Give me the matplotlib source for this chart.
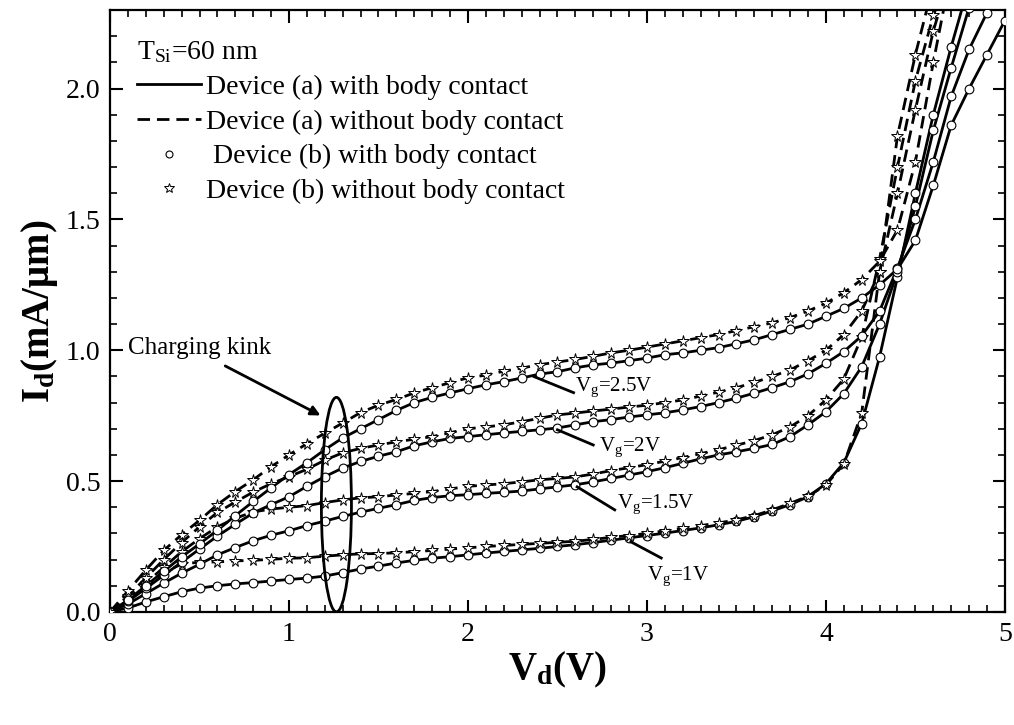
import numpy as np
import matplotlib
matplotlib.use('Agg')
import matplotlib.pyplot as plt
from matplotlib.lines import Line2D
from matplotlib.patches import Ellipse
from matplotlib.ticker import MultipleLocator

plt.rcParams['font.family'] = ['Liberation Serif', 'DejaVu Serif']
plt.rcParams['mathtext.fontset'] = 'custom'
plt.rcParams['mathtext.rm'] = 'Liberation Serif'
plt.rcParams['mathtext.it'] = 'Liberation Serif:italic'
plt.rcParams['mathtext.bf'] = 'Liberation Serif:bold'

# drain voltage sweep (V)
vd = [0.0, 0.1, 0.2, 0.3, 0.4, 0.5, 0.6, 0.7, 0.8, 0.9,
      1.0, 1.1, 1.2, 1.3, 1.4, 1.5, 1.6, 1.7, 1.8, 1.9,
      2.0, 2.1, 2.2, 2.3, 2.4, 2.5, 2.6, 2.7, 2.8, 2.9,
      3.0, 3.1, 3.2, 3.3, 3.4, 3.5, 3.6, 3.7, 3.8, 3.9,
      4.0, 4.1, 4.2, 4.3, 4.4, 4.5, 4.6, 4.7, 4.8, 4.9, 5.0]

# with body contact (mA/um)
with_vg1 = [0, 0.015, 0.038, 0.058, 0.077, 0.091, 0.100, 0.107, 0.112, 0.118,
            0.124, 0.129, 0.137, 0.150, 0.164, 0.175, 0.187, 0.197, 0.205, 0.211,
            0.218, 0.225, 0.231, 0.237, 0.243, 0.250, 0.257, 0.265, 0.274, 0.283,
            0.292, 0.301, 0.311, 0.321, 0.333, 0.346, 0.364, 0.386, 0.410, 0.440,
            0.490, 0.570, 0.720, 0.975, 1.28, 1.60, 1.90, 2.16, 2.40]
with_vg15 = [0, 0.03, 0.07, 0.11, 0.148, 0.182, 0.218, 0.246, 0.272, 0.293,
             0.310, 0.330, 0.347, 0.365, 0.381, 0.396, 0.410, 0.426, 0.437, 0.444,
             0.448, 0.453, 0.457, 0.462, 0.470, 0.478, 0.486, 0.497, 0.510, 0.523,
             0.536, 0.551, 0.568, 0.585, 0.600, 0.612, 0.625, 0.640, 0.670, 0.715,
             0.765, 0.834, 0.937, 1.10, 1.30, 1.55, 1.84, 2.08, 2.31]
with_vg2 = [0, 0.04, 0.09, 0.14, 0.19, 0.24, 0.29, 0.335, 0.378, 0.41,
            0.44, 0.48, 0.517, 0.55, 0.575, 0.595, 0.612, 0.635, 0.650, 0.663,
            0.670, 0.677, 0.684, 0.690, 0.696, 0.703, 0.715, 0.727, 0.735, 0.745,
            0.753, 0.761, 0.772, 0.785, 0.800, 0.817, 0.836, 0.857, 0.880, 0.910,
            0.950, 0.995, 1.055, 1.15, 1.315, 1.50, 1.72, 1.97, 2.15, 2.29, 2.42]
with_vg25 = [0, 0.045, 0.10, 0.155, 0.21, 0.26, 0.312, 0.368, 0.422, 0.474,
             0.525, 0.57, 0.62, 0.665, 0.70, 0.735, 0.77, 0.80, 0.82, 0.837,
             0.853, 0.868, 0.880, 0.894, 0.909, 0.918, 0.933, 0.944, 0.951, 0.960,
             0.970, 0.983, 0.990, 1.000, 1.010, 1.025, 1.040, 1.060, 1.080, 1.100,
             1.130, 1.160, 1.200, 1.250, 1.310, 1.42, 1.63, 1.86, 2.00, 2.13, 2.26]

# without body contact (mA/um)
without_vg1 = [0, 0.04, 0.10, 0.15, 0.183, 0.19, 0.191, 0.195, 0.197, 0.201,
               0.205, 0.207, 0.213, 0.218, 0.222, 0.223, 0.226, 0.23, 0.235, 0.24,
               0.245, 0.25, 0.254, 0.258, 0.262, 0.266, 0.270, 0.277, 0.285, 0.292,
               0.300, 0.31, 0.32, 0.33, 0.34, 0.352, 0.368, 0.39, 0.415, 0.442,
               0.485, 0.565, 0.76, 1.30, 1.82, 2.13, 2.40]
without_vg15 = [0, 0.05, 0.11, 0.17, 0.23, 0.28, 0.325, 0.358, 0.382, 0.393,
                0.400, 0.406, 0.418, 0.428, 0.436, 0.440, 0.447, 0.453, 0.460, 0.470,
                0.480, 0.485, 0.490, 0.497, 0.505, 0.510, 0.516, 0.527, 0.540, 0.551,
                0.563, 0.576, 0.590, 0.605, 0.620, 0.637, 0.655, 0.677, 0.707, 0.750,
                0.810, 0.890, 1.05, 1.35, 1.70, 2.03, 2.28, 2.45]
without_vg2 = [0, 0.06, 0.13, 0.20, 0.265, 0.325, 0.38, 0.42, 0.458, 0.49,
               0.517, 0.545, 0.58, 0.608, 0.625, 0.638, 0.650, 0.660, 0.670, 0.685,
               0.700, 0.707, 0.715, 0.727, 0.740, 0.753, 0.760, 0.768, 0.775, 0.783,
               0.790, 0.80, 0.81, 0.825, 0.840, 0.857, 0.877, 0.900, 0.925, 0.960,
               1.000, 1.06, 1.15, 1.30, 1.60, 1.92, 2.22, 2.45]
without_vg25 = [0, 0.08, 0.16, 0.235, 0.295, 0.35, 0.41, 0.46, 0.505, 0.555,
                0.60, 0.643, 0.683, 0.722, 0.762, 0.790, 0.812, 0.837, 0.857, 0.876,
                0.895, 0.905, 0.920, 0.932, 0.945, 0.955, 0.965, 0.977, 0.990, 1.000,
                1.012, 1.024, 1.036, 1.048, 1.060, 1.075, 1.090, 1.105, 1.125, 1.150,
                1.180, 1.220, 1.270, 1.340, 1.46, 1.72, 2.10, 2.45]

with_curves = [with_vg1, with_vg15, with_vg2, with_vg25]
without_curves = [without_vg1, without_vg15, without_vg2, without_vg25]

vg_labels = [r'V$_\mathrm{g}$=1V', r'V$_\mathrm{g}$=1.5V', r'V$_\mathrm{g}$=2V', r'V$_\mathrm{g}$=2.5V']
label_pos = [(3.00, 0.135), (2.83, 0.41), (2.73, 0.63), (2.60, 0.857)]
pointer_from = [(2.91, 0.268), (2.61, 0.478), (2.50, 0.696), (2.37, 0.899)]
pointer_to = [(3.08, 0.206), (2.82, 0.390), (2.70, 0.638), (2.59, 0.838)]

fig = plt.figure(figsize=(10.14, 7.25), dpi=100)
ax = fig.add_axes([0.1085, 0.156, 0.8825, 0.830])

lw = 2.0
dash = (0, (4.5, 2.5))
for ya, yb in zip(with_curves, without_curves):
    xa = vd[:len(ya)]
    xb = vd[:len(yb)]
    # device (a): lines
    ax.plot(xa, ya, color='k', lw=lw, ls='-', zorder=2)
    ax.plot(xb, yb, color='k', lw=lw, ls=dash, zorder=2)
    # device (b): symbols
    ax.plot(xa, ya, ls='none', marker='o', ms=6.3, mfc='white', mec='k', mew=0.8, zorder=3)
    ax.plot(xb, yb, ls='none', marker='*', ms=8.5, mfc='white', mec='k', mew=0.7, zorder=3)

# gate voltage labels
for txt, pos, p0, p1 in zip(vg_labels, label_pos, pointer_from, pointer_to):
    ax.plot([p0[0], p1[0]], [p0[1], p1[1]], color='k', lw=2.0, zorder=4)
    ax.text(pos[0], pos[1], txt, fontsize=15, ha='left', va='center')

# charging kink
ax.add_patch(Ellipse((1.265, 0.41), 0.168, 0.82, fill=False, ec='k', lw=2.0, zorder=4))
ax.annotate('', xy=(1.19, 0.746), xytext=(0.63, 0.945),
            arrowprops=dict(arrowstyle='-|>', color='k', lw=2.0, mutation_scale=14))
ax.text(0.10, 1.01, 'Charging kink', fontsize=18, ha='left', va='center')

ax.set_xlim(0, 5)
ax.set_ylim(0, 2.3)
ax.xaxis.set_major_locator(MultipleLocator(1))
ax.xaxis.set_minor_locator(MultipleLocator(0.1))
ax.yaxis.set_major_locator(MultipleLocator(0.5))
ax.yaxis.set_minor_locator(MultipleLocator(0.1))
ax.set_xticks([0, 1, 2, 3, 4, 5])
ax.set_xticklabels(['0', '1', '2', '3', '4', '5'])
ax.set_yticks([0, 0.5, 1.0, 1.5, 2.0])
ax.set_yticklabels(['0.0', '0.5', '1.0', '1.5', '2.0'])
ax.tick_params(which='both', direction='in', top=True, right=True, labelsize=20)
ax.tick_params(which='major', length=9, width=1.5, pad=7)
ax.tick_params(which='minor', length=5, width=1.2)
for sp in ax.spines.values():
    sp.set_linewidth(1.6)

ax.set_xlabel(r'V$_\mathbf{d}$(V)', fontsize=28, fontweight='bold', labelpad=2)
ax.set_ylabel(r'I$_\mathbf{d}$(mA/μm)', fontsize=28, fontweight='bold', labelpad=4)

handles = [
    Line2D([], [], color='k', lw=lw, ls='-'),
    Line2D([], [], color='k', lw=lw, ls=dash),
    Line2D([], [], ls='none', marker='o', ms=5, mfc='white', mec='k', mew=0.8),
    Line2D([], [], ls='none', marker='*', ms=7, mfc='white', mec='k', mew=0.7),
]
names = ['Device (a) with body contact', 'Device (a) without body contact',
         ' Device (b) with body contact', 'Device (b) without body contact']
leg = ax.legend(handles, names, loc='upper left', bbox_to_anchor=(0.030, 0.951),
                frameon=False, fontsize=20, title=r'T$_\mathrm{Si}$=60 nm',
                title_fontsize=20, alignment='left', handlelength=2.3,
                handletextpad=0.2, labelspacing=0.33, borderaxespad=0, borderpad=0)

fig.savefig('out.png', dpi=100)
